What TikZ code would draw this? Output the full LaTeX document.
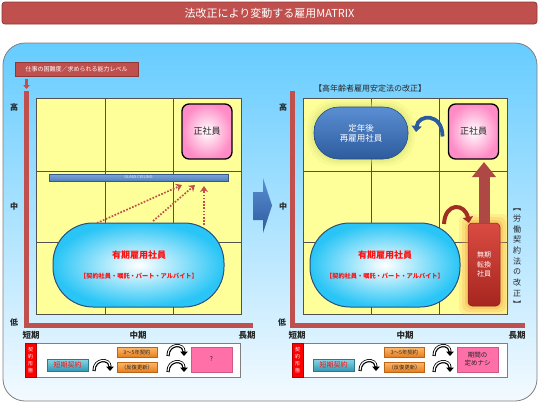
\documentclass[tikz,border=0pt]{standalone}
\usepackage{fontspec}
\setmainfont{Noto Sans CJK JP}
\usetikzlibrary{arrows.meta,calc}
\definecolor{cAxis}{HTML}{C0504D}
\definecolor{cTitleBorder}{HTML}{8C3836}
\definecolor{cGrid}{HTML}{FFFF99}
\definecolor{cBg}{HTML}{66CCFF}
\definecolor{cBgLow}{HTML}{F4FAFF}
\definecolor{cBorder}{HTML}{7F7F7F}
\definecolor{cPink}{HTML}{FF8CC6}
\definecolor{cCyan}{HTML}{29C5F6}
\definecolor{cOvalBorder}{HTML}{2C4F7C}
\definecolor{cGlass}{HTML}{4F81BD}
\definecolor{cGlassTop}{HTML}{7FA6D8}
\definecolor{cTealTop}{HTML}{8AD6E6}
\definecolor{cTealBot}{HTML}{3399B3}
\definecolor{cOrangeTop}{HTML}{FDBA6E}
\definecolor{cOrangeBot}{HTML}{E67E1E}
\definecolor{cPinkBtn}{HTML}{FF6FA8}
\definecolor{cBlueTop}{HTML}{5A8ED2}
\definecolor{cBlueBot}{HTML}{2D5C9E}
\definecolor{cRedTop}{HTML}{DA4B42}
\definecolor{cRedBot}{HTML}{A6261F}
\definecolor{cCurveRed}{HTML}{A02E24}
\definecolor{cTextRed}{HTML}{FF1010}
\definecolor{cDark}{HTML}{262626}
\definecolor{cGlowY}{HTML}{D8E27A}
\definecolor{cGlowO}{HTML}{F5A040}
\definecolor{cStripe}{HTML}{FF0000}
\newcommand{\fsz}[2]{\fontsize{#1}{#2}\selectfont}
\newcommand{\archpair}[2]{%
  \draw[archout] (#1) .. controls +(0,-13) and +(0,-13) .. (#2);
  \draw[archin] (#1) .. controls +(0,-13) and +(0,-13) .. (#2);}
\begin{document}
\begin{tikzpicture}[x=1pt,y=-1pt,
  every node/.style={inner sep=0pt, outer sep=0pt},
  titlebar/.style={rectangle, rounded corners=3pt, fill=cAxis, draw=cTitleBorder, line width=0.8pt, minimum width=535pt, minimum height=22pt, text=white, font=\fsz{11}{13}},
  container/.style={rectangle, rounded corners=22pt, draw=cBorder, line width=0.8pt, top color=cBg, bottom color=cBgLow, minimum width=534pt, minimum height=358pt},
  labelbar/.style={rectangle, fill=cAxis, draw=cTitleBorder, line width=0.6pt, minimum width=123pt, minimum height=14pt, text=white, font=\fsz{6}{7}},
  axisline/.style={draw=cAxis, line width=4.5pt, line join=miter},
  smallarrow/.style={draw=cAxis, line width=2.6pt, -{Triangle[width=6.5pt,length=4pt]}},
  gridline/.style={draw=cDark!80, line width=0.6pt},
  levellabel/.style={font=\bfseries\fsz{8}{9}, text=cDark},
  seisha/.style={rectangle, rounded corners=7pt, draw=black, line width=1.3pt, inner color=white, outer color=cPink, minimum width=50pt, minimum height=55pt, font=\fsz{9}{10}, text=cDark},
  glassbar/.style={rectangle, top color=cGlassTop, bottom color=cGlass, draw=cGlass!70!black, line width=0.4pt, minimum width=179pt, minimum height=7pt, font=\fsz{4}{4}, text=white!85!gray},
  ovalbox/.style={rectangle, rounded corners=40pt, draw=cOvalBorder, line width=1pt, inner color=white, outer color=cCyan, minimum height=84pt},
  ovaltitle/.style={font=\bfseries\fsz{9}{10}, text=cTextRed},
  ovalsub/.style={font=\bfseries\fsz{6.2}{7}, text=cTextRed},
  dotarrow/.style={draw=cAxis, line width=1.7pt, dash pattern=on 1.7pt off 1.5pt, -{Stealth[width=8pt,length=6pt]}},
  timelabel/.style={font=\bfseries\fsz{8.5}{9}, text=cDark},
  framebox/.style={rectangle, draw=cBorder, line width=0.8pt, fill=white, minimum width=215pt, minimum height=34pt},
  stripebox/.style={rectangle, fill=cStripe, draw=cStripe!70!black, line width=0.4pt, minimum width=11pt, minimum height=34pt, align=center, font=\fsz{5}{7.2}, text=white},
  shortbtn/.style={rectangle, top color=cTealTop, bottom color=cTealBot, draw=cTealBot!80!black, line width=0.4pt, minimum width=41pt, minimum height=12pt, font=\fsz{7}{8}, text=cTextRed},
  orangebtn/.style={rectangle, top color=cOrangeTop, bottom color=cOrangeBot, draw=cOrangeBot!80!black, line width=0.4pt, minimum width=40pt, minimum height=10pt, font=\fsz{5.3}{6}, text=cDark},
  pinkbtn/.style={rectangle, fill=cPinkBtn, draw=cPinkBtn!80!black, line width=0.4pt, minimum width=41pt, minimum height=25pt, align=center, font=\fsz{6.5}{8}, text=cDark},
  archout/.style={draw=black, line width=3.2pt, -{Triangle[width=7.5pt,length=4.5pt]}},
  archin/.style={draw=white, line width=1.2pt, shorten >=5pt, shorten <=0.8pt},
  headtext/.style={font=\fsz{8}{9}, text=cDark},
  teinen/.style={rectangle, rounded corners=25pt, top color=cBlueTop, bottom color=cBlueBot, draw=cBlueBot!80!black, line width=0.6pt, minimum width=94pt, minimum height=52pt, align=center, font=\fsz{8.5}{10}, text=white},
  mukibox/.style={rectangle, rounded corners=4pt, top color=cRedTop, bottom color=cRedBot, draw=cRedBot!80!black, line width=0.5pt, minimum width=32pt, minimum height=83pt, align=center, font=\fsz{7}{9.5}, text=white},
  uparrow/.style={draw=cAxis!90!black, line width=11pt, -{Triangle[width=23pt,length=15pt]}},
  bluecurve/.style={draw=cBlueBot, line width=3.8pt, -{Triangle[width=10pt,length=6pt]}},
  redcurve/.style={draw=cCurveRed, line width=4pt, -{Triangle[width=10pt,length=6pt]}},
  lawlabel/.style={align=center, font=\fsz{8}{10.7}, text=cDark}
]
\useasboundingbox (0,0) rectangle (540,405);
\node[titlebar] (title) at (269.5,13) {法改正により変動する雇用MATRIX};
\node[container] (bg) at (270,222) {};

% ---------------- left panel ----------------
\node[labelbar] (diffL) at (76.5,69) {仕事の困難度／求められる能力レベル};
\coordinate (arrL0) at (26.5,79);
\coordinate (arrL1) at (26.5,89);
\draw[smallarrow] (arrL0) -- (arrL1);
\coordinate (axLtop) at (26.5,91);
\coordinate (axLcorner) at (26.5,325.5);
\coordinate (axLend) at (253,325.5);
\draw[axisline] (axLtop) -- (axLcorner) -- (axLend);
\node[levellabel] (hiL) at (14,107) {高};
\node[levellabel] (midlvL) at (14,206) {中};
\node[levellabel] (loL) at (14,322) {低};
\draw[gridline, fill=cGrid] (36,98) rectangle (241,314);
\draw[gridline] (105,98) -- (105,314) (173,98) -- (173,314) (36,171) -- (241,171) (36,242) -- (241,242);
\node[seisha] (seiL) at (207,131.5) {正社員};
\node[glassbar] (glass) at (138.5,177.5) {GLASS CEILING};
\node[ovalbox, minimum width=171pt] (ovalL) at (138.5,265) {};
\node[ovaltitle] (ovalLt) at (139,255) {有期雇用社員};
\node[ovalsub] (ovalLs) at (139,276) {【契約社員・嘱託・パート・アルバイト】};
\draw[dotarrow] ($(ovalL.north)+(-41.5,0)$) -- ($(glass.south)+(43.5,4)$);
\draw[dotarrow] ($(ovalL.north)+(14.5,-2)$) -- ($(glass.south)+(56.5,4)$);
\draw[dotarrow] ($(ovalL.north)+(65.5,2)$) -- ($(glass.south)+(65.5,5)$);

% block arrow between panels
\shade[top color=cBlueTop, bottom color=cBlueBot] (253,192) -- (263,192) -- (263,178) -- (272,205.5) -- (263,233) -- (263,220) -- (253,220) -- cycle;

% bottom left
\node[timelabel] (shortL) at (31,335) {短期};
\node[timelabel] (midL) at (138,335) {中期};
\node[timelabel] (longL) at (247,335) {長期};
\node[framebox] (frameL) at (132.5,360) {};
\node[stripebox] (stripeL) at (30.5,360) {契\\約\\形\\態};
\node[shortbtn] (kikanL) at (67.5,365) {短期契約};
\node[orangebtn] (threeL) at (137,352) {3～5年契約};
\node[orangebtn] (renewL) at (137,367) {（反復更新）};
\node[pinkbtn] (qL) at (211.5,359.5) {?};
\coordinate (a1s) at (94,371); \coordinate (a1e) at (110,371);
\coordinate (a2s) at (168,356); \coordinate (a2e) at (184,356);
\coordinate (a3s) at (168,372); \coordinate (a3e) at (184,372);
\archpair{a1s}{a1e}
\archpair{a2s}{a2e}
\archpair{a3s}{a3e}

% ---------------- right panel ----------------
\coordinate (axRtop) at (292.3,91);
\coordinate (axRcorner) at (292.3,325.5);
\coordinate (axRend) at (525,325.5);
\draw[axisline] (axRtop) -- (axRcorner) -- (axRend);
\node[levellabel] (hiR) at (283,107) {高};
\node[levellabel] (midlvR) at (283,206) {中};
\node[levellabel] (loR) at (282,322) {低};
\node[headtext] (headR) at (370,88) {【高年齢者雇用安定法の改正】};
\draw[gridline, fill=cGrid] (303,98) rectangle (507,314);
\draw[gridline] (371,98) -- (371,314) (439,98) -- (439,314) (303,171) -- (507,171) (303,242) -- (507,242);
\foreach \g/\o in {7/0.18,4.5/0.25,2.5/0.35}
  \fill[cGlowY, opacity=\o, rounded corners=28pt] (314-\g,107-\g) rectangle (408+\g,159+\g);
\node[teinen] (teinen) at (361,133) {定年後\\再雇用社員};
\node[seisha] (seiR) at (473.5,131.5) {正社員};
\draw[bluecurve] ($(seiR.west)+(-6,5)$) .. controls +(0,-24) and +(2,-18) .. ($(teinen.east)+(8,-1)$);
\foreach \g/\o in {9/0.15,6/0.22,3/0.3}
  \fill[cGlowO, opacity=\o, rounded corners=7pt] (468-\g,223-\g) rectangle (500+\g,306+\g);
\node[mukibox] (muki) at (484,264.5) {無期\\転換\\社員};
\draw[uparrow] (muki.north) -- ($(muki.north |- seiR.south)+(0,3)$);
\node[ovalbox, minimum width=150pt] (ovalR) at (385,265) {};
\node[ovaltitle] (ovalRt) at (385,255) {有期雇用社員};
\node[ovalsub] (ovalRs) at (385,276) {【契約社員・嘱託・パート・アルバイト】};
\draw[redcurve] ($(ovalR.north east)+(-16,1)$) .. controls +(1,-22) and +(-4,-20) .. ($(muki.north west)+(1,0)$);
\node[lawlabel] (lawR) at (517,258) {︻\\労\\働\\契\\約\\法\\の\\改\\正\\︼};

% bottom right
\node[timelabel] (shortR) at (297,335) {短期};
\node[timelabel] (midR) at (405,335) {中期};
\node[timelabel] (longR) at (517,335) {長期};
\node[framebox] (frameR) at (399.5,360) {};
\node[stripebox] (stripeR) at (297.5,360) {契\\約\\形\\態};
\node[shortbtn] (kikanR) at (333.5,365) {短期契約};
\node[orangebtn] (threeR) at (404.5,352) {3～5年契約};
\node[orangebtn] (renewR) at (404.5,367) {（反復更新）};
\node[pinkbtn] (noLimit) at (477.5,359.5) {期間の\\定めナシ};
\coordinate (b1s) at (360,371); \coordinate (b1e) at (376,371);
\coordinate (b2s) at (434,356); \coordinate (b2e) at (450,356);
\coordinate (b3s) at (434,372); \coordinate (b3e) at (450,372);
\archpair{b1s}{b1e}
\archpair{b2s}{b2e}
\archpair{b3s}{b3e}
\end{tikzpicture}
\end{document}
